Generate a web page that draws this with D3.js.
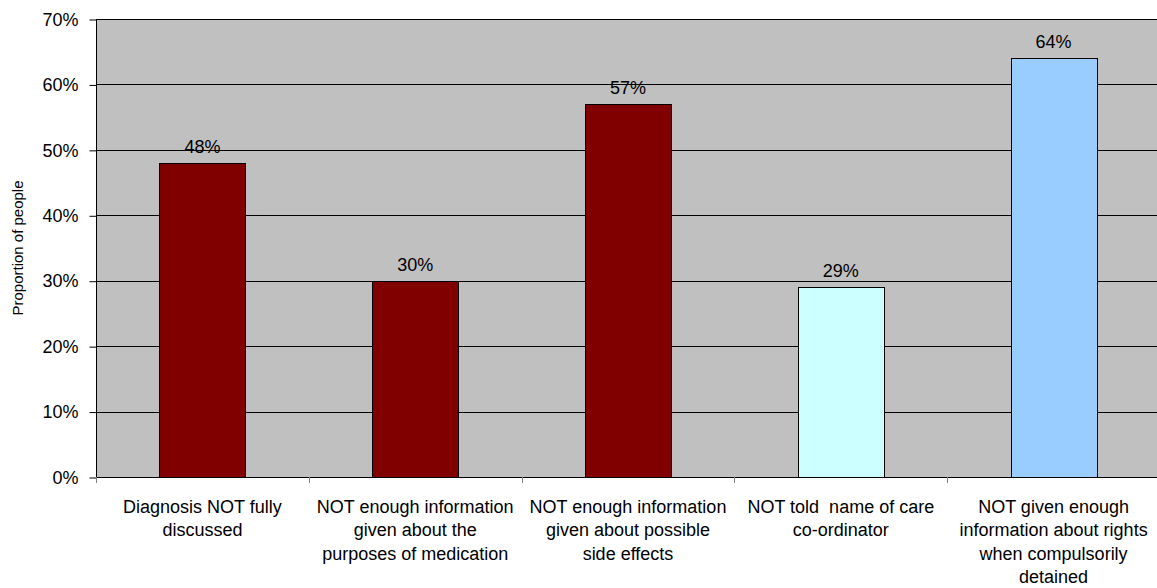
<!DOCTYPE html>
<html>
<head>
<meta charset="utf-8">
<script src="https://cdn.jsdelivr.net/npm/d3@7"></script>
<style>
  html, body { margin: 0; padding: 0; background: #fff; }
  svg { display: block; font-family: "Liberation Sans", Arial, sans-serif; }
</style>
</head>
<body>
<svg id="chart" width="1157" height="588"></svg>
<script>
// Survey results: share of people reporting each information gap
const categoryLines = [
  ["Diagnosis NOT fully", "discussed"],
  ["NOT enough information", "given about the", "purposes of medication"],
  ["NOT enough information", "given about possible", "side effects"],
  ["NOT told  name of care", "co-ordinator"],
  ["NOT given enough", "information about rights", "when compulsorily", "detained"]
];
const values = [48, 30, 57, 29, 64];
const barColors = ["#800000", "#800000", "#800000", "#CCFFFF", "#99CCFF"];
const yTicks = [0, 10, 20, 30, 40, 50, 60, 70];
const yTitle = "Proportion of people";

const svg = d3.select("#chart");
const plot = { left: 96, top: 19, right: 1160, bottom: 477 };

const x = d3.scaleBand()
  .domain(d3.range(values.length))
  .range([plot.left, plot.right])
  .padding(0);

const y = d3.scaleLinear()
  .domain([0, 70])
  .range([plot.bottom, plot.top]);

// Plot background
svg.append("rect")
  .attr("x", plot.left).attr("y", plot.top)
  .attr("width", plot.right - plot.left).attr("height", plot.bottom - plot.top)
  .attr("fill", "#C0C0C0")
  .attr("stroke", "#808080").attr("stroke-width", 1)
  .attr("shape-rendering", "crispEdges");

// Horizontal gridlines
svg.append("g")
  .selectAll("line")
  .data(yTicks.filter(t => t > 0))
  .join("line")
  .attr("x1", plot.left).attr("x2", plot.right)
  .attr("y1", d => Math.round(y(d)) + 0.5).attr("y2", d => Math.round(y(d)) + 0.5)
  .attr("stroke", "#000").attr("stroke-width", 1);

// Bars
const barW = x.bandwidth() * 0.405;
svg.append("g")
  .selectAll("rect")
  .data(values)
  .join("rect")
  .attr("x", (d, i) => Math.round(x(i) + (x.bandwidth() - barW) / 2) + 0.5)
  .attr("y", d => Math.round(y(d)) + 0.5)
  .attr("width", Math.round(barW))
  .attr("height", d => Math.round(y(0)) - Math.round(y(d)))
  .attr("fill", (d, i) => barColors[i])
  .attr("stroke", "#000").attr("stroke-width", 1);

// Value labels
svg.append("g")
  .selectAll("text")
  .data(values)
  .join("text")
  .attr("x", (d, i) => x(i) + x.bandwidth() / 2)
  .attr("y", d => y(d) - 10)
  .attr("text-anchor", "middle")
  .attr("font-size", 18)
  .attr("fill", "#000")
  .text(d => d + "%");

// Y axis
const yAxis = d3.axisLeft(y)
  .tickValues(yTicks)
  .tickFormat(d => d + "%")
  .tickSize(7)
  .tickPadding(11);
const gy = svg.append("g")
  .attr("transform", `translate(${plot.left + 0.5},0.5)`)
  .call(yAxis);
gy.select(".domain").attr("stroke", "#000").attr("d", `M0,${plot.top}V${plot.bottom}`);
gy.selectAll(".tick line").attr("stroke", "#000");
gy.selectAll(".tick text")
  .attr("font-size", 18)
  .attr("font-family", "Liberation Sans, Arial, sans-serif")
  .attr("fill", "#000");

// X axis: ticks at category boundaries
const boundaries = d3.range(values.length).map(i => x(i));
svg.append("line")
  .attr("x1", plot.left).attr("x2", plot.right)
  .attr("y1", plot.bottom + 0.5).attr("y2", plot.bottom + 0.5)
  .attr("stroke", "#000");
svg.append("g")
  .selectAll("line")
  .data(boundaries)
  .join("line")
  .attr("x1", d => Math.round(d) + 0.5).attr("x2", d => Math.round(d) + 0.5)
  .attr("y1", plot.bottom).attr("y2", plot.bottom + 6)
  .attr("stroke", "#808080");

// Category labels
const cat = svg.append("g")
  .selectAll("text")
  .data(categoryLines)
  .join("text")
  .attr("text-anchor", "middle")
  .attr("font-size", 18)
  .attr("fill", "#000")
  .style("white-space", "pre");
cat.selectAll("tspan")
  .data((d, i) => d.map(line => ({ line, i })))
  .join("tspan")
  .attr("x", d => x(d.i) + x.bandwidth() / 2)
  .attr("y", (d, j) => 513 + j * 23.3)
  .text(d => d.line);

// Y axis title
svg.append("text")
  .attr("transform", `translate(23,${(plot.top + plot.bottom) / 2}) rotate(-90)`)
  .attr("text-anchor", "middle")
  .attr("font-size", 15)
  .attr("fill", "#000")
  .text(yTitle);
</script>
</body>
</html>
